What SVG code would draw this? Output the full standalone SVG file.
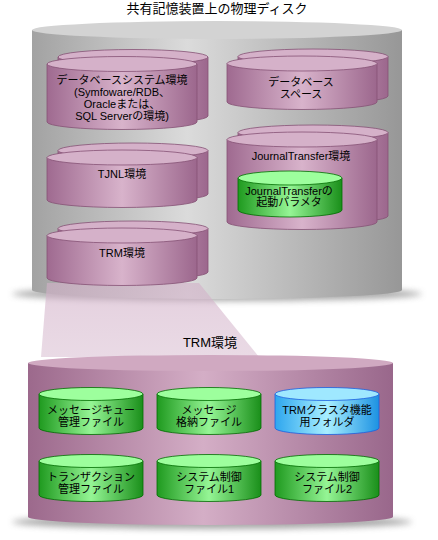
<svg xmlns="http://www.w3.org/2000/svg" width="438" height="540" viewBox="0 0 438 540">
<defs>
<linearGradient id="gGray" x1="0" y1="0" x2="1" y2="0">
<stop offset="0" stop-color="#a2a2a2"/><stop offset="0.42" stop-color="#dbdbdb"/><stop offset="1" stop-color="#979797"/>
</linearGradient>
<linearGradient id="gPurple" x1="0" y1="0" x2="1" y2="0">
<stop offset="0" stop-color="#9f6a90"/><stop offset="0.5" stop-color="#d8b3cb"/><stop offset="1" stop-color="#9c678d"/>
</linearGradient>
<linearGradient id="gBig" x1="0" y1="0" x2="1" y2="0">
<stop offset="0" stop-color="#9c698c"/><stop offset="0.48" stop-color="#d4aec6"/><stop offset="1" stop-color="#99678b"/>
</linearGradient>
<linearGradient id="gGreen" x1="0" y1="0" x2="1" y2="0">
<stop offset="0" stop-color="#1f9a1f"/><stop offset="0.5" stop-color="#95f595"/><stop offset="1" stop-color="#1a8f1a"/>
</linearGradient>
<linearGradient id="gBlue" x1="0" y1="0" x2="1" y2="0">
<stop offset="0" stop-color="#2ea6ee"/><stop offset="0.5" stop-color="#a8efff"/><stop offset="1" stop-color="#1d92e2"/>
</linearGradient>
<linearGradient id="gMag" x1="0" y1="0" x2="0" y2="1">
<stop offset="0" stop-color="#d2b0c8" stop-opacity="0.6"/><stop offset="1" stop-color="#d8bcd0" stop-opacity="0.55"/>
</linearGradient>
<filter id="blur" x="-10%" y="-100%" width="120%" height="300%"><feGaussianBlur stdDeviation="3"/></filter>
<style>
.t{font-family:"Liberation Sans","Noto Sans CJK JP",sans-serif;fill:#000;text-anchor:middle}
.s11{font-size:11px}
.s13{font-size:13px}
.pb{fill:url(#gPurple);stroke:#855275;stroke-width:0.8}
.pt{fill:#d5b1c9;stroke:#855275;stroke-width:0.8}
.gb{fill:url(#gGreen);stroke:#006c00;stroke-width:0.8}
.gt{fill:#9dff9d;stroke:#006c00;stroke-width:0.8}
.bb{fill:url(#gBlue);stroke:#1c5fe0;stroke-width:0.8}
.bt{fill:#9fe8ff;stroke:#1c5fe0;stroke-width:0.8}
.sh{fill:#8a8a8a;opacity:0.75;filter:url(#blur)}
</style>
</defs>
<rect width="438" height="540" fill="#ffffff"/>

<g id="disk">
<ellipse class="sh" cx="217" cy="294" rx="205" ry="7"/>
<path d="M32,30 L32,290 A185,9 0 0 0 402,290 L402,30 Z" fill="url(#gGray)"/>
<ellipse cx="217" cy="30" rx="185" ry="9" fill="#d3d3d3"/>
<text class="t s13" x="217" y="13">共有記憶装置上の物理ディスク</text>
</g>

<g id="db-env">
<path class="pb" d="M58,57 L58,116 A75,7.5 0 0 0 208,116 L208,57 Z"/>
<ellipse class="pt" cx="133" cy="57" rx="75" ry="7.5"/>
<path class="pb" d="M47,64 L47,122 A75,7.5 0 0 0 197,122 L197,64 Z"/>
<ellipse class="pt" cx="122" cy="64" rx="75" ry="7.5"/>
<text class="t s11" x="122" y="84">データベースシステム環境</text>
<text class="t s11" x="122" y="96">(Symfoware/RDB、</text>
<text class="t s11" x="122" y="108">Oracleまたは、</text>
<text class="t s11" x="122" y="120">SQL Serverの環境)</text>
</g>

<g id="tjnl-env">
<path class="pb" d="M58,150.5 L58,194 A75,7.5 0 0 0 208,194 L208,150.5 Z"/>
<ellipse class="pt" cx="133" cy="150.5" rx="75" ry="7.5"/>
<path class="pb" d="M47,157.5 L47,200 A75,7.5 0 0 0 197,200 L197,157.5 Z"/>
<ellipse class="pt" cx="122" cy="157.5" rx="75" ry="7.5"/>
<text class="t s11" x="122" y="178">TJNL環境</text>
</g>

<g id="magnifier">
<polygon points="47,283 199,283 259,357 41,357" fill="url(#gMag)"/>
</g>

<g id="trm-env">
<path class="pb" d="M58,228.5 L58,272 A75,7.5 0 0 0 208,272 L208,228.5 Z"/>
<ellipse class="pt" cx="133" cy="228.5" rx="75" ry="7.5"/>
<path class="pb" d="M47,235.5 L47,278 A75,7.5 0 0 0 197,278 L197,235.5 Z"/>
<ellipse class="pt" cx="122" cy="235.5" rx="75" ry="7.5"/>
<text class="t s11" x="122" y="257">TRM環境</text>
</g>

<g id="db-space">
<path class="pb" d="M238,56.5 L238,96 A75,7.5 0 0 0 388,96 L388,56.5 Z"/>
<ellipse class="pt" cx="313" cy="56.5" rx="75" ry="7.5"/>
<path class="pb" d="M227,63.5 L227,102 A75,7.5 0 0 0 377,102 L377,63.5 Z"/>
<ellipse class="pt" cx="302" cy="63.5" rx="75" ry="7.5"/>
<text class="t s11" x="301" y="86">データベース</text>
<text class="t s11" x="301" y="98">スペース</text>
</g>

<g id="jt-env">
<path class="pb" d="M238,132.5 L238,216 A75,7.5 0 0 0 388,216 L388,132.5 Z"/>
<ellipse class="pt" cx="313" cy="132.5" rx="75" ry="7.5"/>
<path class="pb" d="M227,139.5 L227,222 A75,7.5 0 0 0 377,222 L377,139.5 Z"/>
<ellipse class="pt" cx="302" cy="139.5" rx="75" ry="7.5"/>
<text class="t s11" x="301" y="160">JournalTransfer環境</text>
</g>

<g id="jt-param">
<path class="gb" d="M238,178 L238,210 A52,7 0 0 0 342,210 L342,178 Z"/>
<ellipse class="gt" cx="290" cy="178" rx="52" ry="7"/>
<text class="t s11" x="289" y="195">JournalTransferの</text>
<text class="t s11" x="289" y="206">起動パラメタ</text>
</g>

<g id="trm-detail">
<ellipse class="sh" cx="212" cy="522" rx="200" ry="7"/>
<path d="M28,363 L28,517 A182.5,8 0 0 0 393,517 L393,363 Z" fill="url(#gBig)"/>
<ellipse cx="210.5" cy="363" rx="182.5" ry="8" fill="#d0a9c1"/>
<text class="t s13" x="210" y="347">TRM環境</text>
</g>

<g id="msgq-file">
<path class="gb" d="M39,394 L39,428 A52,6.5 0 0 0 143,428 L143,394 Z"/>
<ellipse class="gt" cx="91" cy="394" rx="52" ry="6.5"/>
<text class="t s11" x="91" y="414">メッセージキュー</text>
<text class="t s11" x="91" y="426">管理ファイル</text>
</g>

<g id="msg-store">
<path class="gb" d="M157,394 L157,428 A52,6.5 0 0 0 261,428 L261,394 Z"/>
<ellipse class="gt" cx="209" cy="394" rx="52" ry="6.5"/>
<text class="t s11" x="209" y="414">メッセージ</text>
<text class="t s11" x="209" y="426">格納ファイル</text>
</g>

<g id="cluster-folder">
<path class="bb" d="M275,394 L275,428 A52,6.5 0 0 0 379,428 L379,394 Z"/>
<ellipse class="bt" cx="327" cy="394" rx="52" ry="6.5"/>
<text class="t s11" x="327" y="414">TRMクラスタ機能</text>
<text class="t s11" x="327" y="426">用フォルダ</text>
</g>

<g id="tx-file">
<path class="gb" d="M39,461 L39,495 A52,6.5 0 0 0 143,495 L143,461 Z"/>
<ellipse class="gt" cx="91" cy="461" rx="52" ry="6.5"/>
<text class="t s11" x="91" y="481">トランザクション</text>
<text class="t s11" x="91" y="493">管理ファイル</text>
</g>

<g id="sys-ctl-1">
<path class="gb" d="M157,461 L157,495 A52,6.5 0 0 0 261,495 L261,461 Z"/>
<ellipse class="gt" cx="209" cy="461" rx="52" ry="6.5"/>
<text class="t s11" x="209" y="481">システム制御</text>
<text class="t s11" x="209" y="493">ファイル1</text>
</g>

<g id="sys-ctl-2">
<path class="gb" d="M275,461 L275,495 A52,6.5 0 0 0 379,495 L379,461 Z"/>
<ellipse class="gt" cx="327" cy="461" rx="52" ry="6.5"/>
<text class="t s11" x="327" y="481">システム制御</text>
<text class="t s11" x="327" y="493">ファイル2</text>
</g>

<g id="connectors"></g>
</svg>
